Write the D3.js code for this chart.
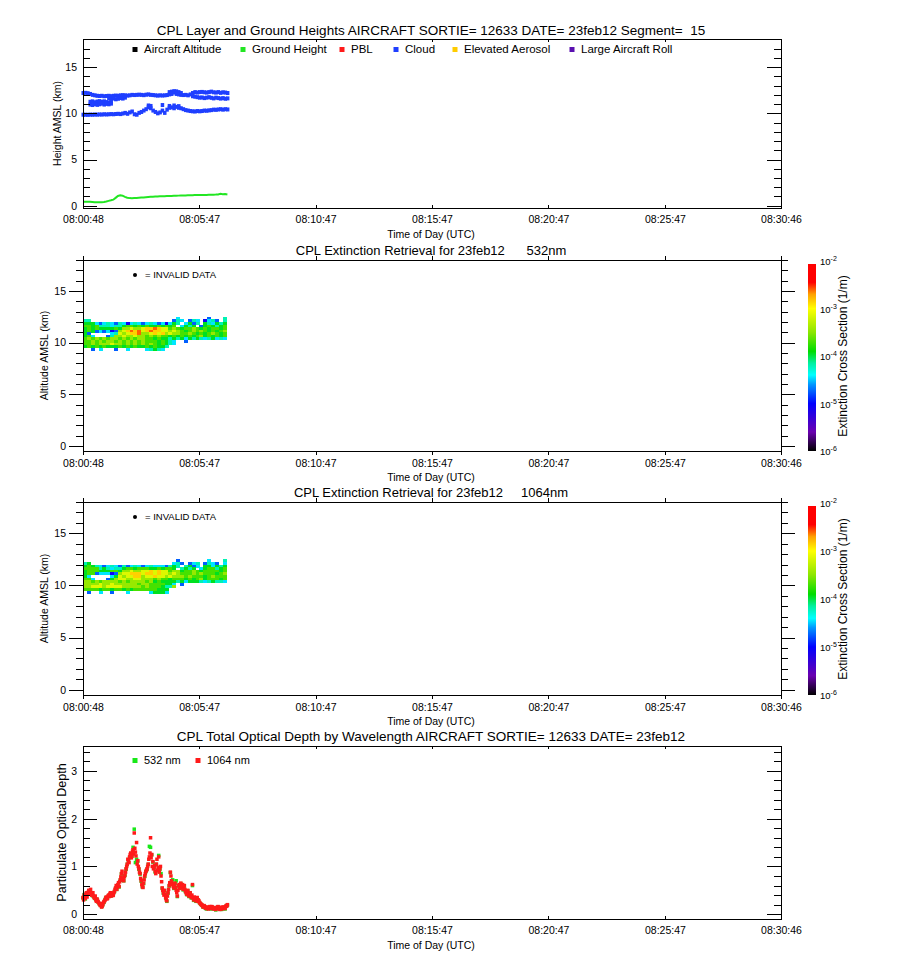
<!DOCTYPE html>
<html>
<head>
<meta charset="utf-8">
<script src="https://cdn.jsdelivr.net/npm/d3@7"></script>
<style>
  body { margin: 0; background: #fff; }
  svg { display: block; }
  text { font-family: "Liberation Sans", Arial, sans-serif; fill: #000; }
</style>
</head>
<body>
<script>

// x axis: seconds after 08:00:00
const tickSecs = [48, 347, 647, 947, 1247, 1547, 1846];

// layer heights, one sample every 6 s from 08:00:48 to 08:07:00 (km AMSL)
const layerStart = 48, layerStep = 6;
const groundHeight = [0.43, 0.43, 0.42, 0.42, 0.40, 0.37, 0.36, 0.36, 0.37, 0.40,
  0.45, 0.52, 0.58, 0.65, 0.85, 1.05, 1.12, 1.08, 0.95, 0.86,
  0.82, 0.80, 0.82, 0.84, 0.86, 0.88, 0.90, 0.92, 0.94, 0.96,
  0.98, 0.99, 1.00, 1.01, 1.02, 1.03, 1.04, 1.05, 1.06, 1.07,
  1.08, 1.09, 1.10, 1.10, 1.11, 1.12, 1.13, 1.14, 1.15, 1.15,
  1.16, 1.16, 1.17, 1.17, 1.18, 1.18, 1.19, 1.20, 1.22, 1.28,
  1.24, 1.26, 1.22];
const cloudUpper = [12.20, 12.22, 12.18, 12.10, 12.00, 11.95, 11.90, 11.88, 11.90, 11.85,
  11.88, 11.90, 11.86, 11.90, 11.92, 11.90, 11.95, 11.97, 11.95, 11.92,
  11.95, 12.00, 11.98, 12.00, 12.02, 12.00, 11.97, 12.02, 12.05, 12.00,
  11.98, 11.95, 11.92, 11.95, 11.93, 11.95, 11.98, 12.30, 12.35, 12.25,
  12.10, 12.05, 12.00, 11.98, 12.00, 11.95, 12.05, 12.20, 12.30, 12.25,
  12.30, 12.32, 12.28, 12.25, 12.30, 12.35, 12.28, 12.25, 12.30, 12.22,
  12.28, 12.25, 12.20];
const cloudUpperB = [null, null, null, null, null, null, null, null, null, null,
  null, 11.65, 11.55, 11.60, 11.52, 11.58, 11.65, 11.60, 11.70, null,
  null, null, null, null, null, null, null, null, null, null,
  null, null, null, null, null, null, null, 12.05, 12.10, 12.40,
  12.38, 12.30, 12.20, null, null, null, null, 11.85, 11.80, 11.75,
  11.70, 11.72, 11.65, 11.70, 11.75, 11.68, 11.62, 11.70, 11.65, 11.60,
  11.65, 11.58, 11.62];
const cloudMidA = [null, null, null, 11.25, 11.30, 11.20, 11.28, 11.32, 11.25, 11.30,
  11.22, 11.18, 11.25];
const cloudMidB = [null, null, null, 10.95, 10.90, 11.00, 10.92, 10.98, 11.05, 10.95,
  11.02, 10.98, 11.05];
const cloudLower = [9.85, 9.85, 9.84, 9.86, 9.85, 9.87, 9.86, 9.88, 9.87, 9.90,
  9.88, 9.90, 9.92, 9.90, 9.93, 9.95, 9.92, 9.98, 10.05, 9.95,
  10.10, 10.20, 9.90, 9.85, 10.05, 10.15, 10.30, 10.45, 10.65, 10.55,
  10.30, 10.15, 10.00, 10.10, 10.30, 10.05, 10.40, 10.60, 10.65, 10.55,
  10.70, 10.60, 10.55, 10.45, 10.35, 10.30, 10.25, 10.22, 10.20, 10.25,
  10.22, 10.25, 10.30, 10.28, 10.32, 10.35, 10.40, 10.38, 10.42, 10.45,
  10.40, 10.45, 10.42];
const cloudLowerB = [null, null, null, null, null, null, null, null, null, null,
  null, null, null, null, null, null, null, null, null, null,
  null, null, null, null, null, null, null, null, 10.85, 10.80,
  null, null, null, null, 10.90, null, null, 10.80, null, 10.85,
  null, 10.78];

const legend1 = ["Aircraft Altitude", "Ground Height", "PBL", "Cloud", "Elevated Aerosol", "Large Aircraft Roll"];
const legend1Colors = ["#000000", "#22e622", "#ff1a1a", "#1f3fff", "#ffcc00", "#5a10b0"];

// extinction curtains: 10 s columns from 08:00:48, 0.25 km rows from 12.5 km down
// each digit is a level of extCode (log10 of extinction, 1/m), "." = no signal
const curtainStart = 48, curtainStep = 10, curtainTop = 12.5, curtainRow = 0.25;
const extCode = [-5.1, -4.75, -4.45, -4.2, -3.95, -3.7, -3.45, -3.15, -2.85, -2.6];
const ext532 = [
  "........................2.......1...3",
  "33.....................132.132.0231.3",
  "4442123213202321232120243.2413.432434",
  "55453332334554545445454 5.2434.1454345".replace(" ", ""),
  "4545444454667667889877565455654545545",
  "4541212016789897898877676545656545456",
  "41.....237678896678786766556545456545",
  "452...1366766766565655454545456454545",
  "5656565665656566554544343424343234232",
  "5565656656565656555454 32..1..........".replace(" ", ""),
  "556566676656565656545432.............",
  "4545454445454544545443...............",
  "..1.2...1..2....23432................"
];
const ext1064 = [
  "........................1.......2...3",
  "34.....................231.123.1321.2",
  "4543212321312321232221343.3412.442434",
  "55553432334554555445455 4.3434.2455345".replace(" ", ""),
  "4555444554667667787877566455654555545",
  "4551222016778887887877676555656555456",
  "42.....247677886778776766656555456555",
  "552...1467766776665655455545456455545",
  "6656566665656666564544443424443234332",
  "6666766766666656655554 42.1...........".replace(" ", ""),
  "667776777766666565554336.............".slice(0, 37),
  "5555455455454555555444...............",
  ".1..2..1...2.....24442..............."
];

// total optical depth, samples every 3 s from 08:00:48 (and the in-between 1064 shots)
const odStart = 48, odStep = 3;
const od1064 = [0.35, 0.40, 0.33, 0.45, 0.42, 0.50, 0.47, 0.44, 0.40, 0.38,
  0.34, 0.30, 0.32, 0.26, 0.22, 0.18, 0.15, 0.20, 0.26, 0.30,
  0.36, 0.33, 0.40, 0.42, 0.38, 0.44, 0.40, 0.48, 0.55, 0.52,
  0.62, 0.58, 0.72, 0.85, 0.76, 0.70, 0.82, 0.95, 1.05, 1.12,
  1.20, 1.28, 1.22, 1.35, 1.70, 1.30, 1.50, 1.12, 0.95, 0.85,
  0.70, 0.58, 0.65, 0.80, 0.90, 0.95, 1.05, 1.20, 1.60, 1.25,
  1.10, 0.98, 0.90, 1.05, 0.92, 1.20, 0.95, 0.80, 0.55, 0.45,
  0.50, 0.35, 0.28, 0.45, 0.60, 0.88, 0.70, 0.62, 0.55, 0.65,
  0.50, 0.38, 0.60, 0.55, 0.65, 0.58, 0.52, 0.60, 0.48, 0.42,
  0.50, 0.38, 0.45, 0.35, 0.62, 0.30, 0.33, 0.28, 0.35, 0.30,
  0.25, 0.22, 0.20, 0.16, 0.18, 0.14, 0.12, 0.15, 0.13, 0.16,
  0.12, 0.15, 0.14, 0.12, 0.10, 0.14, 0.16, 0.12, 0.14, 0.11,
  0.13, 0.15, 0.12, 0.18, 0.20];
const od1064Half = [0.30, 0.38, 0.42, 0.36, 0.46, 0.44, 0.52, 0.40, 0.45, 0.35,
  0.38, 0.27, 0.29, 0.24, 0.20, 0.22, 0.17, 0.24, 0.28, 0.34,
  0.32, 0.38, 0.37, 0.45, 0.41, 0.39, 0.45, 0.52, 0.60, 0.57,
  0.66, 0.68, 0.78, 0.90, 0.72, 0.78, 0.88, 1.00, 1.15, 1.08,
  1.25, 1.18, 1.32, 1.26, 1.38, 1.22, 1.05, 1.00, 0.88, 0.75,
  0.62, 0.56, 0.72, 0.85, 0.92, 1.00, 1.15, 1.28, 1.18, 1.00,
  0.95, 1.02, 0.85, 1.15, 0.98, 0.88, 1.00, 0.68, 0.50, 0.40,
  0.42, 0.30, 0.38, 0.52, 0.66, 0.80, 0.64, 0.58, 0.62, 0.56,
  0.45, 0.50, 0.62, 0.60, 0.55, 0.62, 0.56, 0.52, 0.45, 0.46,
  0.40, 0.42, 0.38, 0.40, 0.34, 0.36, 0.30, 0.32, 0.27, 0.28,
  0.23, 0.20, 0.18, 0.15, 0.16, 0.13, 0.14, 0.11, 0.14, 0.13,
  0.16, 0.12, 0.11, 0.13, 0.12, 0.15, 0.13, 0.10, 0.12, 0.15,
  0.12, 0.14, 0.16, 0.17];
const od532 = [0.34, 0.41, 0.32, 0.44, 0.42, 0.49, 0.46, 0.45, 0.39, 0.37,
  0.33, 0.31, 0.31, 0.25, 0.22, 0.19, 0.16, 0.20, 0.25, 0.31,
  0.35, 0.34, 0.39, 0.41, 0.38, 0.43, 0.41, 0.47, 0.54, 0.52,
  0.61, 0.57, 0.71, 0.84, 0.75, 0.70, 0.81, 0.94, 1.04, 1.10,
  1.18, 1.27, 1.21, 1.40, 1.78, 1.08, 1.15, 1.11, 0.94, 0.84,
  0.69, 0.57, 0.64, 0.79, 0.89, 0.94, 1.04, 1.42, 1.40, 1.24,
  1.09, 0.97, 0.88, 1.04, 0.91, 1.23, 0.94, 0.85, 0.54, 0.44,
  0.49, 0.34, 0.27, 0.44, 0.59, 0.87, 0.69, 0.72, 0.54, 0.64,
  0.70, 0.37, 0.59, 0.54, 0.64, 0.57, 0.51, 0.59, 0.47, 0.41,
  0.49, 0.37, 0.44, 0.34, 0.60, 0.29, 0.32, 0.27, 0.34, 0.29,
  0.24, 0.21, 0.19, 0.15, 0.17, 0.13, 0.11, 0.14, 0.12, 0.15,
  0.11, 0.14, 0.13, 0.11, 0.09, 0.13, 0.15, 0.11, 0.13, 0.10,
  0.12, 0.14, 0.11, 0.17, 0.19];

// colour bar stops (log10 extinction)
const extStops = [-6, -5.6, -5.0, -4.6, -4.4, -4.15, -3.9, -3.5, -3.0, -2.7, -2.45, -2.0];
const extColors = ["#000000", "#6a00b0", "#0000ff", "#0096ff", "#00ffff", "#00f0a0",
  "#00dc00", "#8ce600", "#ffff00", "#ffa000", "#ff0000", "#ff0000"];
const cbExponents = [-2, -3, -4, -5, -6];

// ---- drawing ----
const width = 900, height = 970;
const left = 83, right = 781;

const svg = d3.select("body").append("svg")
  .attr("width", width)
  .attr("height", height);

const x = d3.scaleLinear().domain([48, 1846]).range([left, right]);
const extColor = d3.scaleLinear().domain(extStops).range(extColors);

function timeLabel(s) {
  const m = Math.floor(s / 60), sec = s % 60;
  return "08:" + String(m).padStart(2, "0") + ":" + String(sec).padStart(2, "0");
}

function styleAxis(g, size) {
  g.select(".domain").remove();
  g.selectAll("line").attr("stroke", "#000");
  g.selectAll("text").attr("font-family", "Liberation Sans, Arial, sans-serif")
    .attr("font-size", size).attr("fill", "#000");
}

// frame, ticks and axis labels for one panel
function drawAxes(y, top, bottom, o) {
  const dir = o.inward ? -1 : 1;
  const g = svg.append("g").attr("shape-rendering", "crispEdges");

  g.append("g").attr("transform", `translate(${left},0)`)
    .call(d3.axisLeft(y).tickValues(o.yMinor).tickSize(dir * 7).tickFormat(""))
    .call(a => styleAxis(a, 10.5));
  g.append("g").attr("transform", `translate(${left},0)`)
    .call(d3.axisLeft(y).tickValues(o.yMajor).tickSize(dir * 14)
      .tickPadding(o.inward ? 6 : 3).tickFormat(d3.format("d")))
    .call(a => styleAxis(a, 10.5));
  g.append("g").attr("transform", `translate(${right},0)`)
    .call(d3.axisRight(y).tickValues(o.yMinor).tickSize(dir * 7).tickFormat(""))
    .call(a => styleAxis(a, 10.5));
  g.append("g").attr("transform", `translate(${right},0)`)
    .call(d3.axisRight(y).tickValues(o.yMajor).tickSize(dir * 14).tickFormat(""))
    .call(a => styleAxis(a, 10.5));

  g.append("g").attr("transform", `translate(0,${bottom})`)
    .call(d3.axisBottom(x).tickValues(tickSecs).tickSize(dir * o.xTick)
      .tickPadding(o.inward ? 8 : 5).tickFormat(timeLabel))
    .call(a => styleAxis(a, 10.5));
  g.append("g").attr("transform", `translate(0,${top})`)
    .call(d3.axisTop(x).tickValues(tickSecs).tickSize(dir * o.xTick).tickFormat(""))
    .call(a => styleAxis(a, 10.5));

  g.append("rect")
    .attr("x", left).attr("y", top)
    .attr("width", right - left).attr("height", bottom - top)
    .attr("fill", "none").attr("stroke", "#000");

  svg.append("text")
    .attr("x", 431).attr("y", o.titleY)
    .attr("text-anchor", "middle")
    .attr("font-size", o.titleSize)
    .style("white-space", "pre")
    .text(o.title);

  svg.append("text")
    .attr("x", 431).attr("y", bottom + 30)
    .attr("text-anchor", "middle")
    .attr("font-size", 10.5)
    .text("Time of Day (UTC)");

  svg.append("text")
    .attr("transform", `translate(${o.yTitleX},${(top + bottom) / 2}) rotate(-90)`)
    .attr("text-anchor", "middle")
    .attr("font-size", o.yTitleSize || 10.5)
    .text(o.yTitle);
}

// panel 1: layer and ground heights
function drawLayers() {
  const top = 39, bottom = 208;
  const y = d3.scaleLinear().domain([-0.25, 18.05]).range([bottom, top]);
  const tOf = i => layerStart + i * layerStep;

  const cloudSeries = [cloudUpper, cloudUpperB, cloudMidA, cloudMidB, cloudLower, cloudLowerB];
  const pts = [];
  cloudSeries.forEach(s => s.forEach((h, i) => { if (h != null) pts.push([tOf(i), h]); }));

  svg.append("g")
    .selectAll("rect")
    .data(pts)
    .join("rect")
    .attr("x", d => x(d[0]) - 1.5)
    .attr("y", d => y(d[1]) - 2)
    .attr("width", 3.5)
    .attr("height", 4)
    .attr("fill", legend1Colors[3]);

  const line = d3.line().x((h, i) => x(tOf(i))).y(h => y(h));
  svg.append("path")
    .datum(groundHeight)
    .attr("d", line)
    .attr("fill", "none")
    .attr("stroke", legend1Colors[1])
    .attr("stroke-width", 2);

  drawAxes(y, top, bottom, {
    inward: true, xTick: 3,
    yMajor: [0, 5, 10, 15], yMinor: d3.range(0, 19),
    title: "CPL Layer and Ground Heights AIRCRAFT SORTIE= 12633 DATE= 23feb12 Segment=  15",
    titleY: 35, titleSize: 13.5,
    yTitle: "Height AMSL (km)", yTitleX: 61
  });

  const legendX = [135, 243, 342, 396, 455, 572];
  const lg = svg.append("g");
  legend1.forEach((name, i) => {
    lg.append("rect")
      .attr("x", legendX[i] - 2.5).attr("y", 47)
      .attr("width", 5).attr("height", 5)
      .attr("fill", legend1Colors[i]);
    lg.append("text")
      .attr("x", legendX[i] + 9).attr("y", 53)
      .attr("font-size", 11.5)
      .text(name);
  });
}

// panels 2 and 3: extinction curtains with colour bar
function drawCurtain(grid, top, bottom, title) {
  const y = d3.scaleLinear().domain([-0.5, 18]).range([bottom, top]);
  const cells = [];
  grid.forEach((row, r) => {
    row.split("").forEach((ch, c) => {
      if (ch !== ".") cells.push({ c, r, v: extCode[+ch] });
    });
  });

  svg.append("g")
    .attr("shape-rendering", "crispEdges")
    .selectAll("rect")
    .data(cells)
    .join("rect")
    .attr("x", d => x(curtainStart + d.c * curtainStep))
    .attr("y", d => y(curtainTop - d.r * curtainRow))
    .attr("width", d => x(curtainStart + (d.c + 1) * curtainStep) - x(curtainStart + d.c * curtainStep) + 0.3)
    .attr("height", d => y(curtainTop - (d.r + 1) * curtainRow) - y(curtainTop - d.r * curtainRow) + 0.3)
    .attr("fill", d => extColor(d.v));

  drawAxes(y, top, bottom, {
    inward: false, xTick: 4,
    yMajor: [0, 5, 10, 15], yMinor: d3.range(0, 19),
    title: title, titleY: top - 5, titleSize: 13,
    yTitle: "Altitude AMSL (km)", yTitleX: 48
  });

  // invalid data key
  svg.append("circle")
    .attr("cx", 135).attr("cy", top + 15).attr("r", 2)
    .attr("fill", "#000");
  svg.append("text")
    .attr("x", 145).attr("y", top + 18)
    .attr("font-size", 9.5)
    .text("= INVALID DATA");

  // colour bar
  const cbTop = top + 1, cbBottom = bottom;
  const cb = d3.scaleLinear().domain([-6, -2]).range([cbBottom, cbTop]);
  const rows = d3.range(Math.round(cbTop), Math.round(cbBottom));
  svg.append("g")
    .attr("shape-rendering", "crispEdges")
    .selectAll("rect")
    .data(rows)
    .join("rect")
    .attr("x", 808).attr("y", d => d)
    .attr("width", 8).attr("height", 1)
    .attr("fill", d => {
      const v = cb.invert(d + 0.5);
      return v > -2.06 ? "#fff" : extColor(v);
    });

  const lab = svg.append("g");
  cbExponents.forEach(e => {
    const t = lab.append("text")
      .attr("x", 820).attr("y", cb(e) + 4)
      .attr("font-size", 9.5);
    t.append("tspan").text("10");
    t.append("tspan").attr("dy", -4).attr("font-size", 7).text(String(e));
  });

  svg.append("text")
    .attr("transform", `translate(847,${(cbTop + cbBottom) / 2}) rotate(-90)`)
    .attr("text-anchor", "middle")
    .attr("font-size", 12)
    .text("Extinction Cross Section (1/m)");
}

// panel 4: total optical depth
function drawOpticalDepth() {
  const top = 746, bottom = 919;
  const y = d3.scaleLinear().domain([-0.1, 3.52]).range([bottom, top]);

  const series = [
    [od532, odStart, "#18e818"],
    [od1064Half, odStart + odStep / 2, "#ff1a1a"],
    [od1064, odStart, "#ff1a1a"]
  ];
  series.forEach(([values, t0, color]) => {
    svg.append("g")
      .selectAll("rect")
      .data(values)
      .join("rect")
      .attr("x", (d, i) => x(t0 + i * odStep) - 1.75)
      .attr("y", d => y(d) - 1.75)
      .attr("width", 3.5)
      .attr("height", 3.5)
      .attr("fill", color);
  });

  drawAxes(y, top, bottom, {
    inward: true, xTick: 3,
    yMajor: [0, 1, 2, 3], yMinor: d3.range(0, 3.5, 0.2),
    title: "CPL Total Optical Depth by Wavelength AIRCRAFT SORTIE= 12633 DATE= 23feb12",
    titleY: 741, titleSize: 13.5,
    yTitle: "Particulate Optical Depth", yTitleX: 66, yTitleSize: 12.5
  });

  const keys = [["532 nm", "#18e818", 135], ["1064 nm", "#ff1a1a", 198]];
  keys.forEach(([name, color, kx]) => {
    svg.append("rect")
      .attr("x", kx - 2.5).attr("y", 758)
      .attr("width", 5).attr("height", 5)
      .attr("fill", color);
    svg.append("text")
      .attr("x", kx + 9).attr("y", 764)
      .attr("font-size", 11)
      .text(name);
  });
}

drawLayers();
drawCurtain(ext532, 260, 451, "CPL Extinction Retrieval for 23feb12      532nm");
drawCurtain(ext1064, 502, 695, "CPL Extinction Retrieval for 23feb12     1064nm");
drawOpticalDepth();
</script>
</body>
</html>
